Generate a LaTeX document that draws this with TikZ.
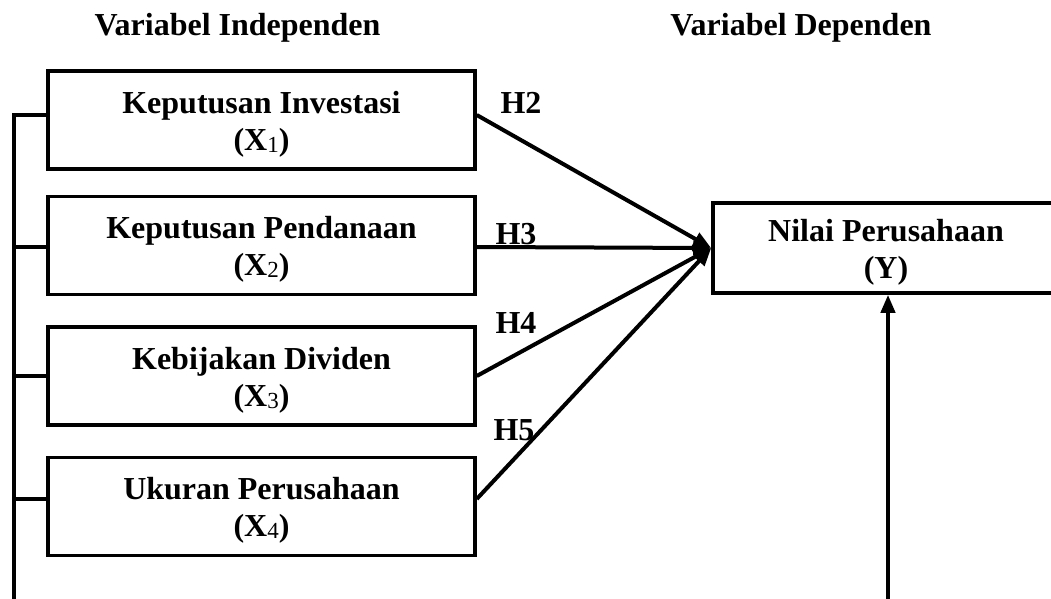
\documentclass[tikz,border=0pt]{standalone}
\usepackage{fontspec}
\setmainfont{Liberation Serif}
\usetikzlibrary{arrows.meta}
\newcommand{\subn}[1]{{\mdseries\fontsize{11.5}{11.5}\selectfont\raisebox{-1pt}{#1}}}
\newcommand{\tallst}{\rule{0pt}{15pt}}
\tikzset{
  boxtext/.style={font=\bfseries\fontsize{16}{18.5}\selectfont},
  box/.style={draw, line width=1.75pt, rectangle, inner sep=0pt, align=center,
    minimum width=213.5pt, minimum height=49pt, boxtext},
  ybox/.style={draw, line width=1.75pt, rectangle, inner sep=0pt, align=center,
    minimum width=173pt, minimum height=45pt, boxtext},
  title/.style={anchor=base, inner sep=0pt, boxtext},
  hlab/.style={inner sep=0pt, boxtext},
  conn/.style={line width=1.75pt},
  arr/.style={line width=2pt, -{Triangle[length=9pt,width=7pt]}}
}
\begin{document}
\begin{tikzpicture}[x=0.5pt,y=-0.5pt]
\clip (0,0) rectangle (1051,599);
\fill[white] (0,0) rectangle (1051,599);

\node[title] (ti) at (237.5,36) {Variabel Independen};
\node[title] (td) at (801,36) {Variabel Dependen};

\node[box] (b1) at (261.5,120) {\tallst Keputusan Investasi\\(X\subn{1})};
\node[box] (b2) at (261.5,245.5) {\tallst Keputusan Pendanaan\\(X\subn{2})};
\node[box] (b3) at (261.5,376) {\tallst Kebijakan Dividen\\(X\subn{3})};
\node[box] (b4) at (261.5,506.5) {\tallst Ukuran Perusahaan\\(X\subn{4})};

\node[ybox] (Y) at (886,248) {\tallst Nilai Perusahaan\\(Y)};

\coordinate (j1) at (14,115);
\coordinate (j2) at (14,247);
\coordinate (j3) at (14,376);
\coordinate (j4) at (14,499);
\coordinate (lb) at (14,605);
\coordinate (yb) at (888,605);

\draw[conn] (lb) -- (j1) -- (j1 -| b1.west);
\draw[conn] (j2) -- (j2 -| b2.west);
\draw[conn] (j3) -- (j3 -| b3.west);
\draw[conn] (j4) -- (j4 -| b4.west);

\draw[arr] (b1.east |- j1) -- (Y.west);
\draw[arr] (b2.east |- j2) -- (Y.west);
\draw[arr] (b3.east |- j3) -- (Y.west);
\draw[arr] (b4.east |- j4) -- (Y.west);
\draw[arr] (yb) -- (yb |- Y.south);

\node[hlab] (h2) at (521,103) {H2};
\node[hlab] (h3) at (516,234) {H3};
\node[hlab] (h4) at (516,323) {H4};
\node[hlab] (h5) at (514,430) {H5};
\end{tikzpicture}
\end{document}
